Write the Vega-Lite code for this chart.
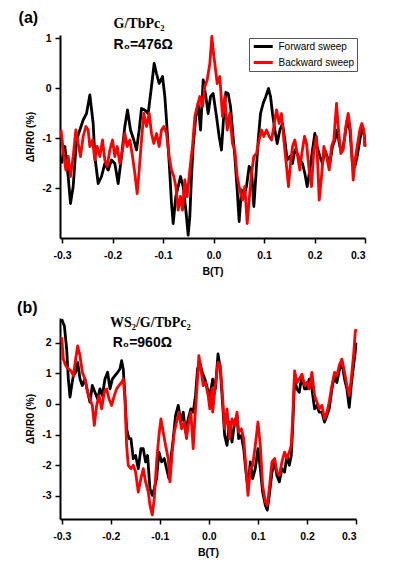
{
"$schema": "https://vega.github.io/schema/vega-lite/v6.json",
"padding": {"left": 17, "top": 10, "right": 5, "bottom": 5},
"background": "white",
"columns": 1,
"align": "none",
"spacing": 22,
"datasets": {
"a": [
{"B":-0.301,"v":-1.51,"s":"Forward sweep"},{"B":-0.2944,"v":-1.17,"s":"Forward sweep"},{"B":-0.2878,"v":-1.77,"s":"Forward sweep"},{"B":-0.2832,"v":-2.31,"s":"Forward sweep"},{"B":-0.2779,"v":-1.97,"s":"Forward sweep"},{"B":-0.2713,"v":-1.04,"s":"Forward sweep"},{"B":-0.2647,"v":-0.84,"s":"Forward sweep"},{"B":-0.2581,"v":-0.64,"s":"Forward sweep"},{"B":-0.2515,"v":-0.51,"s":"Forward sweep"},{"B":-0.2449,"v":-0.14,"s":"Forward sweep"},{"B":-0.2383,"v":-0.71,"s":"Forward sweep"},{"B":-0.235,"v":-1.37,"s":"Forward sweep"},{"B":-0.2284,"v":-1.91,"s":"Forward sweep"},{"B":-0.2218,"v":-1.77,"s":"Forward sweep"},{"B":-0.2152,"v":-1.51,"s":"Forward sweep"},{"B":-0.2086,"v":-1.64,"s":"Forward sweep"},{"B":-0.202,"v":-1.44,"s":"Forward sweep"},{"B":-0.1954,"v":-1.51,"s":"Forward sweep"},{"B":-0.1888,"v":-1.91,"s":"Forward sweep"},{"B":-0.1822,"v":-1.37,"s":"Forward sweep"},{"B":-0.1756,"v":-0.77,"s":"Forward sweep"},{"B":-0.1703,"v":-0.44,"s":"Forward sweep"},{"B":-0.1644,"v":-0.84,"s":"Forward sweep"},{"B":-0.1578,"v":-1.04,"s":"Forward sweep"},{"B":-0.1525,"v":-1.24,"s":"Forward sweep"},{"B":-0.1472,"v":-0.84,"s":"Forward sweep"},{"B":-0.1426,"v":-0.41,"s":"Forward sweep"},{"B":-0.136,"v":-0.44,"s":"Forward sweep"},{"B":-0.1294,"v":-0.51,"s":"Forward sweep"},{"B":-0.1228,"v":0.03,"s":"Forward sweep"},{"B":-0.1175,"v":0.49,"s":"Forward sweep"},{"B":-0.1129,"v":0.29,"s":"Forward sweep"},{"B":-0.1076,"v":0.09,"s":"Forward sweep"},{"B":-0.101,"v":0.23,"s":"Forward sweep"},{"B":-0.0964,"v":-0.17,"s":"Forward sweep"},{"B":-0.0931,"v":-0.64,"s":"Forward sweep"},{"B":-0.0898,"v":-1.17,"s":"Forward sweep"},{"B":-0.0865,"v":-1.71,"s":"Forward sweep"},{"B":-0.0832,"v":-2.31,"s":"Forward sweep"},{"B":-0.0799,"v":-2.71,"s":"Forward sweep"},{"B":-0.0746,"v":-2.17,"s":"Forward sweep"},{"B":-0.07,"v":-1.97,"s":"Forward sweep"},{"B":-0.0654,"v":-1.77,"s":"Forward sweep"},{"B":-0.0601,"v":-1.97,"s":"Forward sweep"},{"B":-0.0548,"v":-2.44,"s":"Forward sweep"},{"B":-0.0502,"v":-2.94,"s":"Forward sweep"},{"B":-0.0469,"v":-2.57,"s":"Forward sweep"},{"B":-0.0436,"v":-1.77,"s":"Forward sweep"},{"B":-0.0403,"v":-1.17,"s":"Forward sweep"},{"B":-0.035,"v":-0.57,"s":"Forward sweep"},{"B":-0.0304,"v":-0.31,"s":"Forward sweep"},{"B":-0.0257,"v":-0.84,"s":"Forward sweep"},{"B":-0.0204,"v":0.16,"s":"Forward sweep"},{"B":-0.0152,"v":-0.17,"s":"Forward sweep"},{"B":-0.0106,"v":-0.51,"s":"Forward sweep"},{"B":-0.0059,"v":-0.17,"s":"Forward sweep"},{"B":-0.0007,"v":-0.11,"s":"Forward sweep"},{"B":0.0059,"v":-0.57,"s":"Forward sweep"},{"B":0.0112,"v":-0.97,"s":"Forward sweep"},{"B":0.0158,"v":-1.24,"s":"Forward sweep"},{"B":0.0205,"v":-0.51,"s":"Forward sweep"},{"B":0.0244,"v":-0.09,"s":"Forward sweep"},{"B":0.029,"v":-0.11,"s":"Forward sweep"},{"B":0.0337,"v":-0.37,"s":"Forward sweep"},{"B":0.0376,"v":-0.84,"s":"Forward sweep"},{"B":0.0422,"v":-1.37,"s":"Forward sweep"},{"B":0.0469,"v":-2.04,"s":"Forward sweep"},{"B":0.0508,"v":-2.67,"s":"Forward sweep"},{"B":0.0554,"v":-2.04,"s":"Forward sweep"},{"B":0.0601,"v":-2.17,"s":"Forward sweep"},{"B":0.0653,"v":-1.97,"s":"Forward sweep"},{"B":0.0706,"v":-1.57,"s":"Forward sweep"},{"B":0.0752,"v":-1.64,"s":"Forward sweep"},{"B":0.0799,"v":-2.37,"s":"Forward sweep"},{"B":0.0838,"v":-1.77,"s":"Forward sweep"},{"B":0.0885,"v":-1.04,"s":"Forward sweep"},{"B":0.0931,"v":-0.51,"s":"Forward sweep"},{"B":0.0983,"v":-0.31,"s":"Forward sweep"},{"B":0.1036,"v":-0.17,"s":"Forward sweep"},{"B":0.1089,"v":-0.01,"s":"Forward sweep"},{"B":0.1129,"v":-0.17,"s":"Forward sweep"},{"B":0.1168,"v":-0.51,"s":"Forward sweep"},{"B":0.1215,"v":-0.84,"s":"Forward sweep"},{"B":0.1261,"v":-1.11,"s":"Forward sweep"},{"B":0.1314,"v":-0.84,"s":"Forward sweep"},{"B":0.1366,"v":-0.71,"s":"Forward sweep"},{"B":0.1412,"v":-1.04,"s":"Forward sweep"},{"B":0.1459,"v":-1.44,"s":"Forward sweep"},{"B":0.1512,"v":-1.37,"s":"Forward sweep"},{"B":0.1564,"v":-1.51,"s":"Forward sweep"},{"B":0.1611,"v":-1.24,"s":"Forward sweep"},{"B":0.1657,"v":-1.31,"s":"Forward sweep"},{"B":0.171,"v":-1.44,"s":"Forward sweep"},{"B":0.1762,"v":-1.51,"s":"Forward sweep"},{"B":0.1809,"v":-1.71,"s":"Forward sweep"},{"B":0.1855,"v":-1.97,"s":"Forward sweep"},{"B":0.1908,"v":-1.64,"s":"Forward sweep"},{"B":0.196,"v":-1.24,"s":"Forward sweep"},{"B":0.2007,"v":-0.91,"s":"Forward sweep"},{"B":0.2053,"v":-1.17,"s":"Forward sweep"},{"B":0.2106,"v":-1.37,"s":"Forward sweep"},{"B":0.2158,"v":-1.51,"s":"Forward sweep"},{"B":0.2205,"v":-1.24,"s":"Forward sweep"},{"B":0.2251,"v":-1.37,"s":"Forward sweep"},{"B":0.2304,"v":-1.51,"s":"Forward sweep"},{"B":0.2356,"v":-1.17,"s":"Forward sweep"},{"B":0.2403,"v":-1.04,"s":"Forward sweep"},{"B":0.2449,"v":-0.84,"s":"Forward sweep"},{"B":0.2502,"v":-1.17,"s":"Forward sweep"},{"B":0.2554,"v":-1.24,"s":"Forward sweep"},{"B":0.2601,"v":-0.97,"s":"Forward sweep"},{"B":0.2647,"v":-0.64,"s":"Forward sweep"},{"B":0.27,"v":-0.84,"s":"Forward sweep"},{"B":0.2752,"v":-1.51,"s":"Forward sweep"},{"B":0.2799,"v":-1.57,"s":"Forward sweep"},{"B":0.2845,"v":-1.37,"s":"Forward sweep"},{"B":0.2898,"v":-1.04,"s":"Forward sweep"},{"B":0.295,"v":-0.77,"s":"Forward sweep"},{"B":0.299,"v":-0.97,"s":"Forward sweep"},{"B":0.3,"v":-1.17,"s":"Forward sweep"},
{"B":-0.302,"v":-0.84,"s":"Backward sweep"},{"B":-0.2977,"v":-1.24,"s":"Backward sweep"},{"B":-0.2924,"v":-1.64,"s":"Backward sweep"},{"B":-0.2878,"v":-1.37,"s":"Backward sweep"},{"B":-0.2832,"v":-1.77,"s":"Backward sweep"},{"B":-0.2779,"v":-1.37,"s":"Backward sweep"},{"B":-0.2726,"v":-0.84,"s":"Backward sweep"},{"B":-0.268,"v":-1.11,"s":"Backward sweep"},{"B":-0.2634,"v":-1.37,"s":"Backward sweep"},{"B":-0.2581,"v":-0.97,"s":"Backward sweep"},{"B":-0.2528,"v":-0.77,"s":"Backward sweep"},{"B":-0.2482,"v":-0.84,"s":"Backward sweep"},{"B":-0.2449,"v":-1.17,"s":"Backward sweep"},{"B":-0.2396,"v":-1.04,"s":"Backward sweep"},{"B":-0.235,"v":-1.44,"s":"Backward sweep"},{"B":-0.2304,"v":-1.17,"s":"Backward sweep"},{"B":-0.2251,"v":-1.37,"s":"Backward sweep"},{"B":-0.2198,"v":-1.04,"s":"Backward sweep"},{"B":-0.2152,"v":-1.44,"s":"Backward sweep"},{"B":-0.2106,"v":-1.57,"s":"Backward sweep"},{"B":-0.2053,"v":-1.24,"s":"Backward sweep"},{"B":-0.2,"v":-1.04,"s":"Backward sweep"},{"B":-0.1954,"v":-1.37,"s":"Backward sweep"},{"B":-0.1907,"v":-1.17,"s":"Backward sweep"},{"B":-0.1855,"v":-1.51,"s":"Backward sweep"},{"B":-0.1802,"v":-1.24,"s":"Backward sweep"},{"B":-0.1756,"v":-0.91,"s":"Backward sweep"},{"B":-0.1709,"v":-1.17,"s":"Backward sweep"},{"B":-0.1657,"v":-1.04,"s":"Backward sweep"},{"B":-0.1604,"v":-1.37,"s":"Backward sweep"},{"B":-0.1558,"v":-1.71,"s":"Backward sweep"},{"B":-0.1511,"v":-2.11,"s":"Backward sweep"},{"B":-0.1472,"v":-1.64,"s":"Backward sweep"},{"B":-0.1426,"v":-1.04,"s":"Backward sweep"},{"B":-0.138,"v":-0.51,"s":"Backward sweep"},{"B":-0.1327,"v":-0.77,"s":"Backward sweep"},{"B":-0.1274,"v":-0.51,"s":"Backward sweep"},{"B":-0.1228,"v":-0.91,"s":"Backward sweep"},{"B":-0.1182,"v":-1.11,"s":"Backward sweep"},{"B":-0.1129,"v":-0.91,"s":"Backward sweep"},{"B":-0.1076,"v":-1.17,"s":"Backward sweep"},{"B":-0.103,"v":-0.84,"s":"Backward sweep"},{"B":-0.0984,"v":-0.77,"s":"Backward sweep"},{"B":-0.0931,"v":-0.91,"s":"Backward sweep"},{"B":-0.0878,"v":-1.37,"s":"Backward sweep"},{"B":-0.0832,"v":-1.64,"s":"Backward sweep"},{"B":-0.0786,"v":-1.77,"s":"Backward sweep"},{"B":-0.0746,"v":-1.97,"s":"Backward sweep"},{"B":-0.07,"v":-2.44,"s":"Backward sweep"},{"B":-0.0654,"v":-2.17,"s":"Backward sweep"},{"B":-0.0614,"v":-2.44,"s":"Backward sweep"},{"B":-0.0568,"v":-1.84,"s":"Backward sweep"},{"B":-0.0521,"v":-2.17,"s":"Backward sweep"},{"B":-0.0469,"v":-1.64,"s":"Backward sweep"},{"B":-0.0416,"v":-1.17,"s":"Backward sweep"},{"B":-0.037,"v":-0.57,"s":"Backward sweep"},{"B":-0.0323,"v":-0.37,"s":"Backward sweep"},{"B":-0.0271,"v":-0.17,"s":"Backward sweep"},{"B":-0.0218,"v":-0.37,"s":"Backward sweep"},{"B":-0.0172,"v":0.03,"s":"Backward sweep"},{"B":-0.0125,"v":0.16,"s":"Backward sweep"},{"B":-0.0073,"v":0.49,"s":"Backward sweep"},{"B":-0.0033,"v":1.03,"s":"Backward sweep"},{"B":0.0007,"v":0.63,"s":"Backward sweep"},{"B":0.0026,"v":0.49,"s":"Backward sweep"},{"B":0.0073,"v":0.09,"s":"Backward sweep"},{"B":0.0125,"v":0.23,"s":"Backward sweep"},{"B":0.0178,"v":-0.57,"s":"Backward sweep"},{"B":0.0224,"v":-0.17,"s":"Backward sweep"},{"B":0.0271,"v":-0.84,"s":"Backward sweep"},{"B":0.0323,"v":-0.51,"s":"Backward sweep"},{"B":0.0376,"v":-1.11,"s":"Backward sweep"},{"B":0.0422,"v":-1.24,"s":"Backward sweep"},{"B":0.0469,"v":-1.77,"s":"Backward sweep"},{"B":0.0521,"v":-2.04,"s":"Backward sweep"},{"B":0.0574,"v":-2.24,"s":"Backward sweep"},{"B":0.062,"v":-1.97,"s":"Backward sweep"},{"B":0.0667,"v":-2.71,"s":"Backward sweep"},{"B":0.0706,"v":-2.24,"s":"Backward sweep"},{"B":0.0752,"v":-1.71,"s":"Backward sweep"},{"B":0.0799,"v":-1.37,"s":"Backward sweep"},{"B":0.0851,"v":-1.31,"s":"Backward sweep"},{"B":0.0904,"v":-1.04,"s":"Backward sweep"},{"B":0.095,"v":-0.84,"s":"Backward sweep"},{"B":0.0997,"v":-0.97,"s":"Backward sweep"},{"B":0.105,"v":-0.84,"s":"Backward sweep"},{"B":0.1102,"v":-0.97,"s":"Backward sweep"},{"B":0.1149,"v":-1.04,"s":"Backward sweep"},{"B":0.1195,"v":-0.77,"s":"Backward sweep"},{"B":0.1248,"v":-0.44,"s":"Backward sweep"},{"B":0.13,"v":-0.71,"s":"Backward sweep"},{"B":0.1347,"v":-0.51,"s":"Backward sweep"},{"B":0.1393,"v":-1.04,"s":"Backward sweep"},{"B":0.1446,"v":-1.57,"s":"Backward sweep"},{"B":0.1485,"v":-1.97,"s":"Backward sweep"},{"B":0.1525,"v":-1.51,"s":"Backward sweep"},{"B":0.1564,"v":-1.17,"s":"Backward sweep"},{"B":0.1611,"v":-1.04,"s":"Backward sweep"},{"B":0.1657,"v":-1.31,"s":"Backward sweep"},{"B":0.171,"v":-1.64,"s":"Backward sweep"},{"B":0.1749,"v":-1.31,"s":"Backward sweep"},{"B":0.1802,"v":-0.97,"s":"Backward sweep"},{"B":0.1842,"v":-1.11,"s":"Backward sweep"},{"B":0.1894,"v":-1.64,"s":"Backward sweep"},{"B":0.1941,"v":-1.97,"s":"Backward sweep"},{"B":0.1987,"v":-1.24,"s":"Backward sweep"},{"B":0.204,"v":-0.97,"s":"Backward sweep"},{"B":0.2093,"v":-2.24,"s":"Backward sweep"},{"B":0.2139,"v":-1.77,"s":"Backward sweep"},{"B":0.2185,"v":-1.17,"s":"Backward sweep"},{"B":0.2238,"v":-1.37,"s":"Backward sweep"},{"B":0.2291,"v":-1.64,"s":"Backward sweep"},{"B":0.2337,"v":-1.17,"s":"Backward sweep"},{"B":0.2383,"v":-1.04,"s":"Backward sweep"},{"B":0.2436,"v":-0.31,"s":"Backward sweep"},{"B":0.2475,"v":-0.84,"s":"Backward sweep"},{"B":0.2521,"v":-1.31,"s":"Backward sweep"},{"B":0.2568,"v":-1.24,"s":"Backward sweep"},{"B":0.262,"v":-0.77,"s":"Backward sweep"},{"B":0.2667,"v":-0.51,"s":"Backward sweep"},{"B":0.2713,"v":-0.84,"s":"Backward sweep"},{"B":0.2766,"v":-1.84,"s":"Backward sweep"},{"B":0.2805,"v":-1.44,"s":"Backward sweep"},{"B":0.2845,"v":-1.17,"s":"Backward sweep"},{"B":0.2898,"v":-0.84,"s":"Backward sweep"},{"B":0.2937,"v":-0.71,"s":"Backward sweep"},{"B":0.2977,"v":-0.84,"s":"Backward sweep"},{"B":0.3,"v":-1.17,"s":"Backward sweep"}
],
"b": [
{"B":-0.3,"v":2.76,"s":"Forward sweep"},{"B":-0.2946,"v":2.54,"s":"Forward sweep"},{"B":-0.2899,"v":1.79,"s":"Forward sweep"},{"B":-0.2865,"v":0.81,"s":"Forward sweep"},{"B":-0.2831,"v":0.22,"s":"Forward sweep"},{"B":-0.2797,"v":0.6,"s":"Forward sweep"},{"B":-0.2763,"v":0.92,"s":"Forward sweep"},{"B":-0.2716,"v":1.03,"s":"Forward sweep"},{"B":-0.2675,"v":1.35,"s":"Forward sweep"},{"B":-0.2627,"v":0.81,"s":"Forward sweep"},{"B":-0.258,"v":0.6,"s":"Forward sweep"},{"B":-0.2526,"v":0.81,"s":"Forward sweep"},{"B":-0.2471,"v":0.38,"s":"Forward sweep"},{"B":-0.2424,"v":0.06,"s":"Forward sweep"},{"B":-0.2376,"v":0.6,"s":"Forward sweep"},{"B":-0.2322,"v":0.38,"s":"Forward sweep"},{"B":-0.2267,"v":0.16,"s":"Forward sweep"},{"B":-0.222,"v":0.49,"s":"Forward sweep"},{"B":-0.2172,"v":0.27,"s":"Forward sweep"},{"B":-0.2118,"v":0.81,"s":"Forward sweep"},{"B":-0.2064,"v":1.03,"s":"Forward sweep"},{"B":-0.2016,"v":0.49,"s":"Forward sweep"},{"B":-0.1968,"v":0.81,"s":"Forward sweep"},{"B":-0.1914,"v":0.92,"s":"Forward sweep"},{"B":-0.186,"v":1.03,"s":"Forward sweep"},{"B":-0.1813,"v":1.14,"s":"Forward sweep"},{"B":-0.1779,"v":1.41,"s":"Forward sweep"},{"B":-0.1745,"v":1.14,"s":"Forward sweep"},{"B":-0.1711,"v":0.27,"s":"Forward sweep"},{"B":-0.1677,"v":-0.81,"s":"Forward sweep"},{"B":-0.1629,"v":-1.13,"s":"Forward sweep"},{"B":-0.1589,"v":-1.13,"s":"Forward sweep"},{"B":-0.1541,"v":-1.78,"s":"Forward sweep"},{"B":-0.1494,"v":-1.68,"s":"Forward sweep"},{"B":-0.1439,"v":-2.11,"s":"Forward sweep"},{"B":-0.1385,"v":-1.46,"s":"Forward sweep"},{"B":-0.1337,"v":-1.46,"s":"Forward sweep"},{"B":-0.129,"v":-1.89,"s":"Forward sweep"},{"B":-0.1249,"v":-1.68,"s":"Forward sweep"},{"B":-0.1201,"v":-2.76,"s":"Forward sweep"},{"B":-0.1154,"v":-2.98,"s":"Forward sweep"},{"B":-0.1113,"v":-2.76,"s":"Forward sweep"},{"B":-0.1066,"v":-2.43,"s":"Forward sweep"},{"B":-0.1018,"v":-1.57,"s":"Forward sweep"},{"B":-0.0964,"v":-1.89,"s":"Forward sweep"},{"B":-0.091,"v":-1.78,"s":"Forward sweep"},{"B":-0.0862,"v":-2.11,"s":"Forward sweep"},{"B":-0.0815,"v":-2.43,"s":"Forward sweep"},{"B":-0.0774,"v":-1.78,"s":"Forward sweep"},{"B":-0.0726,"v":-1.13,"s":"Forward sweep"},{"B":-0.0679,"v":-0.38,"s":"Forward sweep"},{"B":-0.0624,"v":-0.05,"s":"Forward sweep"},{"B":-0.057,"v":-0.59,"s":"Forward sweep"},{"B":-0.0522,"v":-0.27,"s":"Forward sweep"},{"B":-0.0475,"v":-0.92,"s":"Forward sweep"},{"B":-0.0421,"v":-0.49,"s":"Forward sweep"},{"B":-0.0367,"v":-0.16,"s":"Forward sweep"},{"B":-0.0319,"v":-0.27,"s":"Forward sweep"},{"B":-0.0272,"v":0.27,"s":"Forward sweep"},{"B":-0.0231,"v":1.14,"s":"Forward sweep"},{"B":-0.0183,"v":1.35,"s":"Forward sweep"},{"B":-0.0136,"v":1.03,"s":"Forward sweep"},{"B":-0.0081,"v":0.81,"s":"Forward sweep"},{"B":-0.0027,"v":0.49,"s":"Forward sweep"},{"B":0.002,"v":0.27,"s":"Forward sweep"},{"B":0.0068,"v":0.7,"s":"Forward sweep"},{"B":0.0078,"v":0.81,"s":"Forward sweep"},{"B":0.0132,"v":0.49,"s":"Forward sweep"},{"B":0.0187,"v":1.63,"s":"Forward sweep"},{"B":0.0234,"v":1.14,"s":"Forward sweep"},{"B":0.0282,"v":-0.05,"s":"Forward sweep"},{"B":0.0322,"v":-1.03,"s":"Forward sweep"},{"B":0.037,"v":-1.35,"s":"Forward sweep"},{"B":0.0418,"v":-0.59,"s":"Forward sweep"},{"B":0.0472,"v":-1.24,"s":"Forward sweep"},{"B":0.0526,"v":-0.59,"s":"Forward sweep"},{"B":0.0574,"v":-0.38,"s":"Forward sweep"},{"B":0.0608,"v":-1.13,"s":"Forward sweep"},{"B":0.0662,"v":-1.03,"s":"Forward sweep"},{"B":0.071,"v":-1.46,"s":"Forward sweep"},{"B":0.0757,"v":-2.22,"s":"Forward sweep"},{"B":0.0798,"v":-2.76,"s":"Forward sweep"},{"B":0.0845,"v":-1.89,"s":"Forward sweep"},{"B":0.0893,"v":-2.43,"s":"Forward sweep"},{"B":0.0947,"v":-2.11,"s":"Forward sweep"},{"B":0.1001,"v":-1.46,"s":"Forward sweep"},{"B":0.1049,"v":-2.11,"s":"Forward sweep"},{"B":0.1096,"v":-2.87,"s":"Forward sweep"},{"B":0.1151,"v":-3.3,"s":"Forward sweep"},{"B":0.1191,"v":-3.46,"s":"Forward sweep"},{"B":0.1232,"v":-2.98,"s":"Forward sweep"},{"B":0.1287,"v":-2.22,"s":"Forward sweep"},{"B":0.1341,"v":-1.89,"s":"Forward sweep"},{"B":0.1388,"v":-2.33,"s":"Forward sweep"},{"B":0.1436,"v":-2.54,"s":"Forward sweep"},{"B":0.149,"v":-2.11,"s":"Forward sweep"},{"B":0.1544,"v":-2.22,"s":"Forward sweep"},{"B":0.1592,"v":-1.68,"s":"Forward sweep"},{"B":0.164,"v":-2.0,"s":"Forward sweep"},{"B":0.168,"v":-1.68,"s":"Forward sweep"},{"B":0.1708,"v":-0.81,"s":"Forward sweep"},{"B":0.1748,"v":0.81,"s":"Forward sweep"},{"B":0.1796,"v":0.49,"s":"Forward sweep"},{"B":0.1843,"v":0.38,"s":"Forward sweep"},{"B":0.1897,"v":0.92,"s":"Forward sweep"},{"B":0.1952,"v":0.49,"s":"Forward sweep"},{"B":0.1999,"v":0.49,"s":"Forward sweep"},{"B":0.2047,"v":0.81,"s":"Forward sweep"},{"B":0.2101,"v":0.49,"s":"Forward sweep"},{"B":0.2156,"v":-0.16,"s":"Forward sweep"},{"B":0.2203,"v":-0.05,"s":"Forward sweep"},{"B":0.2251,"v":-0.27,"s":"Forward sweep"},{"B":0.2305,"v":-0.27,"s":"Forward sweep"},{"B":0.2359,"v":-0.59,"s":"Forward sweep"},{"B":0.2407,"v":-0.38,"s":"Forward sweep"},{"B":0.2454,"v":-0.16,"s":"Forward sweep"},{"B":0.2509,"v":0.49,"s":"Forward sweep"},{"B":0.2563,"v":0.92,"s":"Forward sweep"},{"B":0.261,"v":0.7,"s":"Forward sweep"},{"B":0.2658,"v":1.08,"s":"Forward sweep"},{"B":0.2712,"v":1.35,"s":"Forward sweep"},{"B":0.2767,"v":0.81,"s":"Forward sweep"},{"B":0.2814,"v":0.49,"s":"Forward sweep"},{"B":0.2862,"v":-0.11,"s":"Forward sweep"},{"B":0.2902,"v":0.6,"s":"Forward sweep"},{"B":0.295,"v":1.25,"s":"Forward sweep"},{"B":0.2984,"v":1.68,"s":"Forward sweep"},{"B":0.2998,"v":2.0,"s":"Forward sweep"},
{"B":-0.3,"v":2.17,"s":"Backward sweep"},{"B":-0.2967,"v":1.46,"s":"Backward sweep"},{"B":-0.2919,"v":1.25,"s":"Backward sweep"},{"B":-0.2865,"v":1.14,"s":"Backward sweep"},{"B":-0.2811,"v":1.08,"s":"Backward sweep"},{"B":-0.2763,"v":0.92,"s":"Backward sweep"},{"B":-0.2716,"v":1.46,"s":"Backward sweep"},{"B":-0.2675,"v":1.89,"s":"Backward sweep"},{"B":-0.2627,"v":1.57,"s":"Backward sweep"},{"B":-0.258,"v":1.03,"s":"Backward sweep"},{"B":-0.2526,"v":0.81,"s":"Backward sweep"},{"B":-0.2471,"v":0.38,"s":"Backward sweep"},{"B":-0.2424,"v":0.16,"s":"Backward sweep"},{"B":-0.2376,"v":-0.05,"s":"Backward sweep"},{"B":-0.2335,"v":-0.7,"s":"Backward sweep"},{"B":-0.2288,"v":-0.05,"s":"Backward sweep"},{"B":-0.224,"v":0.27,"s":"Backward sweep"},{"B":-0.2186,"v":-0.16,"s":"Backward sweep"},{"B":-0.2132,"v":0.38,"s":"Backward sweep"},{"B":-0.2084,"v":0.49,"s":"Backward sweep"},{"B":-0.2036,"v":0.16,"s":"Backward sweep"},{"B":-0.1982,"v":-0.05,"s":"Backward sweep"},{"B":-0.1928,"v":0.27,"s":"Backward sweep"},{"B":-0.188,"v":0.49,"s":"Backward sweep"},{"B":-0.1833,"v":0.6,"s":"Backward sweep"},{"B":-0.1779,"v":0.7,"s":"Backward sweep"},{"B":-0.1745,"v":0.81,"s":"Backward sweep"},{"B":-0.1711,"v":0.16,"s":"Backward sweep"},{"B":-0.1677,"v":-1.35,"s":"Backward sweep"},{"B":-0.1643,"v":-2.0,"s":"Backward sweep"},{"B":-0.1589,"v":-2.11,"s":"Backward sweep"},{"B":-0.1541,"v":-2.0,"s":"Backward sweep"},{"B":-0.1494,"v":-2.22,"s":"Backward sweep"},{"B":-0.1439,"v":-2.87,"s":"Backward sweep"},{"B":-0.1385,"v":-2.43,"s":"Backward sweep"},{"B":-0.1337,"v":-2.11,"s":"Backward sweep"},{"B":-0.129,"v":-2.54,"s":"Backward sweep"},{"B":-0.1235,"v":-2.87,"s":"Backward sweep"},{"B":-0.1201,"v":-3.3,"s":"Backward sweep"},{"B":-0.1154,"v":-3.62,"s":"Backward sweep"},{"B":-0.1113,"v":-3.08,"s":"Backward sweep"},{"B":-0.1066,"v":-1.89,"s":"Backward sweep"},{"B":-0.1018,"v":-1.03,"s":"Backward sweep"},{"B":-0.0977,"v":-0.49,"s":"Backward sweep"},{"B":-0.093,"v":-0.92,"s":"Backward sweep"},{"B":-0.0883,"v":-1.35,"s":"Backward sweep"},{"B":-0.0828,"v":-1.78,"s":"Backward sweep"},{"B":-0.0794,"v":-2.54,"s":"Backward sweep"},{"B":-0.0747,"v":-1.57,"s":"Backward sweep"},{"B":-0.0706,"v":-0.92,"s":"Backward sweep"},{"B":-0.0658,"v":-0.59,"s":"Backward sweep"},{"B":-0.0611,"v":-0.27,"s":"Backward sweep"},{"B":-0.0556,"v":-0.81,"s":"Backward sweep"},{"B":-0.0502,"v":-0.59,"s":"Backward sweep"},{"B":-0.0455,"v":-1.13,"s":"Backward sweep"},{"B":-0.0421,"v":-0.7,"s":"Backward sweep"},{"B":-0.0367,"v":-0.27,"s":"Backward sweep"},{"B":-0.0319,"v":-1.46,"s":"Backward sweep"},{"B":-0.0285,"v":-0.49,"s":"Backward sweep"},{"B":-0.0231,"v":0.81,"s":"Backward sweep"},{"B":-0.0204,"v":1.57,"s":"Backward sweep"},{"B":-0.0163,"v":1.14,"s":"Backward sweep"},{"B":-0.0115,"v":0.6,"s":"Backward sweep"},{"B":-0.0068,"v":0.7,"s":"Backward sweep"},{"B":-0.0014,"v":0.27,"s":"Backward sweep"},{"B":0.002,"v":-0.16,"s":"Backward sweep"},{"B":0.0068,"v":0.49,"s":"Backward sweep"},{"B":0.0078,"v":-0.27,"s":"Backward sweep"},{"B":0.0132,"v":0.6,"s":"Backward sweep"},{"B":0.0187,"v":1.35,"s":"Backward sweep"},{"B":0.0234,"v":1.25,"s":"Backward sweep"},{"B":0.0282,"v":0.16,"s":"Backward sweep"},{"B":0.0322,"v":-0.81,"s":"Backward sweep"},{"B":0.037,"v":-0.16,"s":"Backward sweep"},{"B":0.0418,"v":-1.13,"s":"Backward sweep"},{"B":0.0472,"v":-0.49,"s":"Backward sweep"},{"B":0.0526,"v":-0.7,"s":"Backward sweep"},{"B":0.0574,"v":-0.27,"s":"Backward sweep"},{"B":0.0608,"v":-0.92,"s":"Backward sweep"},{"B":0.0662,"v":-0.81,"s":"Backward sweep"},{"B":0.071,"v":-1.13,"s":"Backward sweep"},{"B":0.0757,"v":-2.11,"s":"Backward sweep"},{"B":0.0798,"v":-2.98,"s":"Backward sweep"},{"B":0.0845,"v":-2.11,"s":"Backward sweep"},{"B":0.0893,"v":-2.0,"s":"Backward sweep"},{"B":0.0947,"v":-1.35,"s":"Backward sweep"},{"B":0.1001,"v":-0.59,"s":"Backward sweep"},{"B":0.1049,"v":-1.35,"s":"Backward sweep"},{"B":0.1096,"v":-2.65,"s":"Backward sweep"},{"B":0.1151,"v":-3.19,"s":"Backward sweep"},{"B":0.1191,"v":-3.3,"s":"Backward sweep"},{"B":0.1232,"v":-2.76,"s":"Backward sweep"},{"B":0.1287,"v":-1.89,"s":"Backward sweep"},{"B":0.1341,"v":-1.78,"s":"Backward sweep"},{"B":0.1388,"v":-2.22,"s":"Backward sweep"},{"B":0.1436,"v":-2.33,"s":"Backward sweep"},{"B":0.149,"v":-1.89,"s":"Backward sweep"},{"B":0.1544,"v":-1.57,"s":"Backward sweep"},{"B":0.1592,"v":-1.78,"s":"Backward sweep"},{"B":0.164,"v":-1.57,"s":"Backward sweep"},{"B":0.168,"v":-1.35,"s":"Backward sweep"},{"B":0.1708,"v":-0.49,"s":"Backward sweep"},{"B":0.1748,"v":1.08,"s":"Backward sweep"},{"B":0.1796,"v":0.7,"s":"Backward sweep"},{"B":0.1843,"v":0.81,"s":"Backward sweep"},{"B":0.1897,"v":0.97,"s":"Backward sweep"},{"B":0.1952,"v":0.6,"s":"Backward sweep"},{"B":0.1999,"v":0.7,"s":"Backward sweep"},{"B":0.2047,"v":0.49,"s":"Backward sweep"},{"B":0.2101,"v":1.03,"s":"Backward sweep"},{"B":0.2156,"v":0.27,"s":"Backward sweep"},{"B":0.2203,"v":0.06,"s":"Backward sweep"},{"B":0.2251,"v":-0.16,"s":"Backward sweep"},{"B":0.2305,"v":-0.05,"s":"Backward sweep"},{"B":0.2359,"v":-0.49,"s":"Backward sweep"},{"B":0.2407,"v":-0.27,"s":"Backward sweep"},{"B":0.2454,"v":0.06,"s":"Backward sweep"},{"B":0.2509,"v":0.6,"s":"Backward sweep"},{"B":0.2563,"v":1.03,"s":"Backward sweep"},{"B":0.261,"v":0.92,"s":"Backward sweep"},{"B":0.2658,"v":1.25,"s":"Backward sweep"},{"B":0.2712,"v":1.46,"s":"Backward sweep"},{"B":0.2767,"v":1.03,"s":"Backward sweep"},{"B":0.2814,"v":0.6,"s":"Backward sweep"},{"B":0.2862,"v":0.27,"s":"Backward sweep"},{"B":0.2902,"v":0.81,"s":"Backward sweep"},{"B":0.295,"v":1.57,"s":"Backward sweep"},{"B":0.2984,"v":2.33,"s":"Backward sweep"},{"B":0.3,"v":2.44,"s":"Backward sweep"}
]
},
"concat": [
{
"width": 305, "height": 203,
"layer": [
{"data": {"name": "a"}, "transform": [{"filter": "datum.s === 'Forward sweep'"}],
 "mark": {"type": "line", "strokeWidth": 2.8, "strokeJoin": "round"},
 "encoding": {
  "x": {"field": "B", "type": "quantitative", "scale": {"domain": [-0.304, 0.3], "nice": false, "zero": false},
        "axis": {"values": [-0.3,-0.2,-0.1,0,0.1,0.2,0.3], "title": "B(T)", "labelExpr": "replace(format(datum.value,'.1f'),'\u2212','-')"}},
  "y": {"field": "v", "type": "quantitative", "scale": {"domain": [-3.0, 1.06], "nice": false, "zero": false},
        "axis": {"values": [-2,-1,0,1], "title": "ΔR/R0 (%)", "labelExpr": "replace(format(datum.value,'d'),'\u2212','-')"}},
  "color": {"field": "s", "type": "nominal", "scale": {"domain": ["Forward sweep","Backward sweep"], "range": ["#000000","#ff0000"]},
        "legend": {"title": null, "orient": "none", "legendX": 189, "legendY": 3}}
 }},
{"data": {"name": "a"}, "transform": [{"filter": "datum.s === 'Backward sweep'"}],
 "mark": {"type": "line", "strokeWidth": 2.8, "strokeJoin": "round"},
 "encoding": {
  "x": {"field": "B", "type": "quantitative"},
  "y": {"field": "v", "type": "quantitative"},
  "color": {"field": "s", "type": "nominal"}
 }},
{"data": {"values": [{}]}, "mark": {"type": "text", "align": "left", "baseline": "middle", "font": "Liberation Sans", "fontSize": 16, "fontWeight": "bold", "color": "#000"},
 "encoding": {"x": {"datum": -0.386}, "y": {"datum": 1.40}, "text": {"value": "(a)"}}},
{"data": {"values": [{}]}, "mark": {"type": "text", "align": "left", "baseline": "middle", "font": "Liberation Serif", "fontSize": 14, "fontWeight": "bold", "color": "#000"},
 "encoding": {"x": {"datum": -0.198}, "y": {"datum": 1.29}, "text": {"value": "G/TbPc₂"}}},
{"data": {"values": [{}]}, "mark": {"type": "text", "align": "left", "baseline": "middle", "font": "Liberation Sans", "fontSize": 14, "fontWeight": "bold", "color": "#000"},
 "encoding": {"x": {"datum": -0.198}, "y": {"datum": 0.87}, "text": {"value": "R₀=476Ω"}}}
]
},
{
"width": 296, "height": 201,
"layer": [
{"data": {"name": "b"}, "transform": [{"filter": "datum.s === 'Forward sweep'"}],
 "mark": {"type": "line", "strokeWidth": 2.8, "strokeJoin": "round"},
 "encoding": {
  "x": {"field": "B", "type": "quantitative", "scale": {"domain": [-0.3035, 0.3], "nice": false, "zero": false},
        "axis": {"values": [-0.3,-0.2,-0.1,0,0.1,0.2,0.3], "title": "B(T)", "labelExpr": "replace(format(datum.value,'.1f'),'\u2212','-')"}},
  "y": {"field": "v", "type": "quantitative", "scale": {"domain": [-3.75, 2.8], "nice": false, "zero": false},
        "axis": {"values": [-3,-2,-1,0,1,2], "title": "ΔR/R0 (%)", "labelExpr": "replace(format(datum.value,'d'),'\u2212','-')"}},
  "color": {"field": "s", "type": "nominal", "scale": {"domain": ["Forward sweep","Backward sweep"], "range": ["#000000","#ff0000"]},
        "legend": {"title": null, "orient": "none", "legendX": 174, "legendY": 0}}
 }},
{"data": {"name": "b"}, "transform": [{"filter": "datum.s === 'Backward sweep'"}],
 "mark": {"type": "line", "strokeWidth": 2.8, "strokeJoin": "round"},
 "encoding": {
  "x": {"field": "B", "type": "quantitative"},
  "y": {"field": "v", "type": "quantitative"},
  "color": {"field": "s", "type": "nominal"}
 }},
{"data": {"values": [{}]}, "mark": {"type": "text", "align": "left", "baseline": "middle", "font": "Liberation Sans", "fontSize": 16, "fontWeight": "bold", "color": "#000"},
 "encoding": {"x": {"datum": -0.391}, "y": {"datum": 3.14}, "text": {"value": "(b)"}}},
{"data": {"values": [{}]}, "mark": {"type": "text", "align": "left", "baseline": "middle", "font": "Liberation Serif", "fontSize": 14, "fontWeight": "bold", "color": "#000"},
 "encoding": {"x": {"datum": -0.2016}, "y": {"datum": 2.65}, "text": {"value": "WS₂/G/TbPc₂"}}},
{"data": {"values": [{}]}, "mark": {"type": "text", "align": "left", "baseline": "middle", "font": "Liberation Sans", "fontSize": 14, "fontWeight": "bold", "color": "#000"},
 "encoding": {"x": {"datum": -0.196}, "y": {"datum": 2.0}, "text": {"value": "R₀=960Ω"}}}
]
}
],
"config": {
 "view": {"stroke": null},
 "axis": {"domainColor": "#000", "domainWidth": 2, "tickColor": "#000", "tickWidth": 1.5, "tickSize": 5, "grid": false,
   "labelFont": "Liberation Sans", "labelFontWeight": "bold", "labelFontSize": 10.5, "labelColor": "#000", "labelPadding": 4,
   "titleFont": "Liberation Sans", "titleFontWeight": "bold", "titleFontSize": 10.5, "titleColor": "#000"},
 "axisX": {"labelPadding": 7, "titlePadding": 6},
 "axisY": {"titlePadding": 6},
 "legend": {"symbolType": "M-2,0H2", "symbolStrokeWidth": 3, "symbolSize": 90, "symbolOffset": 5.75, "labelFont": "Liberation Sans", "labelFontSize": 10, "labelColor": "#000",
   "strokeColor": "#555", "padding": 2, "rowPadding": 3, "labelOffset": 8.75, "fillColor": "white"}
}
}
